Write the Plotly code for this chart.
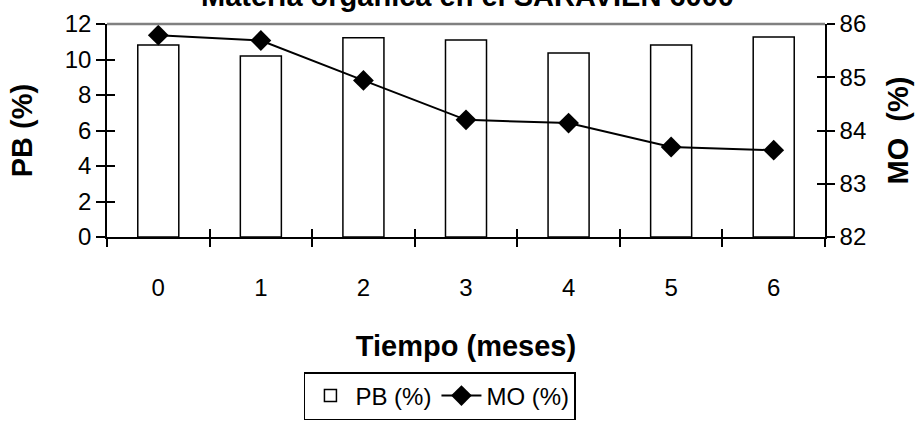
import plotly.graph_objects as go

categories = ["0", "1", "2", "3", "4", "5", "6"]
pb_values = [10.82, 10.2, 11.23, 11.1, 10.37, 10.82, 11.27]
mo_values = [85.79, 85.69, 84.94, 84.2, 84.14, 83.69, 83.63]
pb_ticks = [0, 2, 4, 6, 8, 10, 12]
mo_ticks = [82, 83, 84, 85, 86]

title_text = "Materia orgánica en el SARAVIEN 6000"
x_title = "Tiempo (meses)"
y_title = "PB (%)"
y2_title = "MO  (%)"

FONT = "Liberation Sans, Arial, sans-serif"
W, H = 923, 426
L, R, T, B = 107, 98, 24, 189
plot_h = H - T - B

fig = go.Figure()
fig.add_trace(go.Bar(
    x=categories, y=pb_values, name="PB (%)",
    marker=dict(color="white", line=dict(color="black", width=1.5)),
    xaxis="x", yaxis="y",
))
fig.add_trace(go.Scatter(
    x=categories, y=mo_values, name="MO (%)", mode="lines+markers",
    line=dict(color="black", width=2),
    marker=dict(symbol="diamond", size=16, color="black"),
    xaxis="x2", yaxis="y2",
))
# invisible helper traces for inside tick marks (crossing ticks)
fig.add_trace(go.Scatter(x=categories, y=pb_values, xaxis="x2", yaxis="y3",
                         mode="markers", marker=dict(opacity=0), showlegend=False,
                         hoverinfo="skip"))
fig.add_trace(go.Scatter(x=categories, y=mo_values, xaxis="x2", yaxis="y4",
                         mode="markers", marker=dict(opacity=0), showlegend=False,
                         hoverinfo="skip"))

tickfont = dict(family=FONT, size=24, color="black")
titlefont = dict(family=FONT, size=29, color="black", weight="bold")

fig.update_layout(
    width=W, height=H,
    margin=dict(l=L, r=R, t=T, b=B, pad=0, autoexpand=False),
    paper_bgcolor="white", plot_bgcolor="white",
    bargap=0.6,
    showlegend=True,
    legend=dict(
        orientation="h", x=428 / W, xanchor="center",
        y=-(372 - (H - B)) / plot_h, yanchor="top",
        bordercolor="black", borderwidth=1.5,
        font=dict(family=FONT, size=24, color="black"),
        itemwidth=40, tracegroupgap=0,
    ),
    xaxis=dict(
        type="category", categoryorder="array", categoryarray=categories,
        range=[-0.5, 6.5], tickson="boundaries", automargin=False,
        ticks="outside", ticklen=8, tickwidth=1.5, tickcolor="black",
        showline=True, linecolor="black", linewidth=2,
        showgrid=False, zeroline=False,
        tickfont=tickfont, ticklabelstandoff=28,
        title=dict(text=x_title, font=titlefont, standoff=36),
    ),
    xaxis2=dict(
        type="category", categoryorder="array", categoryarray=categories,
        range=[-0.5, 6.5], tickson="boundaries", overlaying="x", anchor="y",
        automargin=False,
        ticks="inside", ticklen=8, tickwidth=1.5, tickcolor="black",
        showticklabels=False, showline=False, showgrid=False, zeroline=False,
    ),
    yaxis=dict(
        range=[0, 12], tickvals=pb_ticks, automargin=False,
        ticks="outside", ticklen=9, tickwidth=1.5, tickcolor="black",
        showline=True, linecolor="black", linewidth=1.5,
        showgrid=False, zeroline=False, tickfont=tickfont,
        title=dict(text=y_title, font=titlefont, standoff=24),
    ),
    yaxis2=dict(
        range=[82, 86], tickvals=mo_ticks, overlaying="y", side="right", anchor="x",
        automargin=False,
        ticks="outside", ticklen=8, tickwidth=1.5, tickcolor="black",
        showline=True, linecolor="black", linewidth=1.5,
        showgrid=False, zeroline=False, tickfont=tickfont,
        title=dict(text=y2_title, font=titlefont, standoff=22),
    ),
    yaxis3=dict(
        range=[0, 12], tickvals=pb_ticks, overlaying="y", side="left", anchor="x",
        automargin=False,
        ticks="inside", ticklen=8, tickwidth=1.5, tickcolor="black",
        showticklabels=False, showline=False, showgrid=False, zeroline=False,
    ),
    yaxis4=dict(
        range=[82, 86], tickvals=mo_ticks, overlaying="y", side="right", anchor="x",
        automargin=False,
        ticks="inside", ticklen=8, tickwidth=1.5, tickcolor="black",
        showticklabels=False, showline=False, showgrid=False, zeroline=False,
    ),
    shapes=[dict(type="line", xref="paper", yref="paper", x0=0, x1=1, y0=1, y1=1,
                 line=dict(color="#808080", width=2.5))],
    annotations=[dict(
        text=title_text, xref="paper", yref="paper",
        x=(468 - L) / (W - L - R), xanchor="center",
        y=1 + (T + 4) / plot_h, yanchor="middle", showarrow=False,
        font=dict(family=FONT, size=29, color="black", weight="bold"),
    )],
)

fig.write_html("out.html", config={"displayModeBar": False},
               post_script="document.body.style.margin='0';")
